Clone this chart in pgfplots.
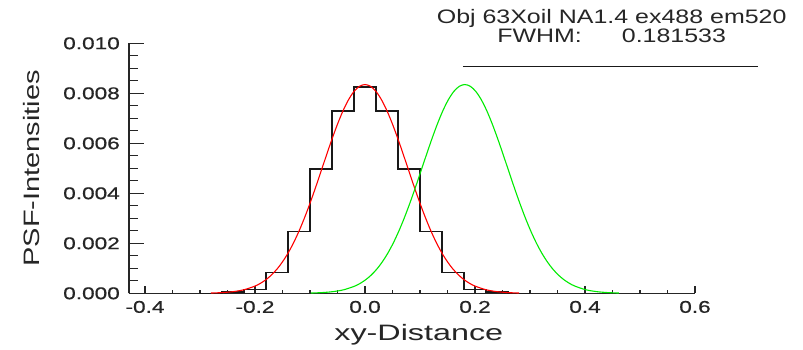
\documentclass[border=0pt]{standalone}
\usepackage{fontspec}
\setmainfont{Liberation Sans}
\newfontfamily\tickfont[FakeStretch=1.33,FakeBold=0.7]{Liberation Sans}
\newfontfamily\titlefont[FakeStretch=1.28]{Liberation Sans}
\newfontfamily\xlabfont[FakeStretch=1.45]{Liberation Sans}
\newfontfamily\ylabfont[FakeStretch=1.30]{Liberation Sans}
\usepackage{pgfplots}
\pgfplotsset{compat=1.18}
\definecolor{txt}{gray}{0.15}
\pgfplotsset{base/.style={
  at={(129pt,55.7pt)}, anchor=south west,
  scale only axis, width=566pt, height=250pt,
  xmin=-0.4291, xmax=0.6, ymin=0, ymax=0.010,
  axis line style={line width=1.6pt, black!85, -},
  tick align=inside,
  xtick={-0.4,-0.2,0,0.2,0.4,0.6}, minor x tick num=3,
  ytick={0,0.002,0.004,0.006,0.008,0.010}, minor y tick num=3,
  scaled y ticks=false, scaled x ticks=false,
  /pgf/number format/assume math mode=true,
}}
\begin{document}
\begin{tikzpicture}[x=1pt,y=1pt]
\useasboundingbox (0,0) rectangle (803,349);
\begin{axis}[base,
  axis x line*=bottom, axis y line*=left,
  major tick length=7pt, minor tick length=3.5pt,
  x tick style={line width=1.1pt, black!85},
  y tick style={draw=none},
  xticklabel style={/pgf/number format/.cd, fixed, fixed zerofill, precision=1, /tikz/.cd,
     font={\tickfont\fontsize{17}{17}\selectfont}, text=txt, inner sep=0pt, anchor=north, yshift=-7.4pt},
  yticklabel style={/pgf/number format/.cd, fixed, fixed zerofill, precision=3, /tikz/.cd,
     font={\tickfont\fontsize{17}{17}\selectfont}, text=txt, inner sep=0pt, anchor=east, xshift=-9pt},
  xlabel={xy-Distance},
  xlabel style={font={\xlabfont\fontsize{22.3}{22.3}\selectfont}, text=txt, at={(axis description cs:0.512,-0.187)}, anchor=base},
  ylabel={PSF-Intensities},
  ylabel style={font={\ylabfont\fontsize{22.3}{22.3}\selectfont}, text=txt, at={(axis description cs:-0.173,0.5)}, anchor=center},
  clip=false,
]
% histogram
\addplot[const plot, black!90, line width=1.4pt] coordinates {
 (-0.30,0) (-0.26,0.00005) (-0.22,0.00016) (-0.18,0.00084) (-0.14,0.00247)
 (-0.10,0.00497) (-0.06,0.00729) (-0.02,0.00826) (0.02,0.00729) (0.06,0.00497)
 (0.10,0.00247) (0.14,0.00084) (0.18,0.00016) (0.22,0.00005) (0.26,0) (0.30,0)
};
% red fit
\addplot[smooth, red, line width=1.1pt] coordinates {
 (-0.28,0.000011) (-0.26,0.000028) (-0.24,0.000066) (-0.22,0.000142) (-0.20,0.000289)
 (-0.19,0.000401) (-0.18,0.000547) (-0.17,0.000734) (-0.16,0.000969) (-0.15,0.001258)
 (-0.14,0.001606) (-0.13,0.002015) (-0.12,0.002487) (-0.11,0.003018) (-0.10,0.003601)
 (-0.09,0.004225) (-0.08,0.004875) (-0.07,0.005530) (-0.06,0.006169) (-0.05,0.006766)
 (-0.04,0.007299) (-0.03,0.007741) (-0.02,0.008074) (-0.01,0.008280) (0.00,0.008350)
 (0.01,0.008280) (0.02,0.008074) (0.03,0.007741) (0.04,0.007299) (0.05,0.006766)
 (0.06,0.006169) (0.07,0.005530) (0.08,0.004875) (0.09,0.004225) (0.10,0.003601)
 (0.11,0.003018) (0.12,0.002487) (0.13,0.002015) (0.14,0.001606) (0.15,0.001258)
 (0.16,0.000969) (0.17,0.000734) (0.18,0.000547) (0.19,0.000401) (0.20,0.000289)
 (0.22,0.000142) (0.24,0.000066) (0.26,0.000028) (0.28,0.000011)
};
% green shifted
\addplot[smooth, color={rgb,255:red,0;green,235;blue,0}, line width=1.1pt] coordinates {
 (-0.0985,0.000011) (-0.0785,0.000028) (-0.0585,0.000066) (-0.0385,0.000142) (-0.0185,0.000289)
 (-0.0085,0.000401) (0.0015,0.000547) (0.0115,0.000734) (0.0215,0.000969) (0.0315,0.001258)
 (0.0415,0.001606) (0.0515,0.002015) (0.0615,0.002487) (0.0715,0.003018) (0.0815,0.003601)
 (0.0915,0.004225) (0.1015,0.004875) (0.1115,0.005530) (0.1215,0.006169) (0.1315,0.006766)
 (0.1415,0.007299) (0.1515,0.007741) (0.1615,0.008074) (0.1715,0.008280) (0.1815,0.008350)
 (0.1915,0.008280) (0.2015,0.008074) (0.2115,0.007741) (0.2215,0.007299) (0.2315,0.006766)
 (0.2415,0.006169) (0.2515,0.005530) (0.2615,0.004875) (0.2715,0.004225) (0.2815,0.003601)
 (0.2915,0.003018) (0.3015,0.002487) (0.3115,0.002015) (0.3215,0.001606) (0.3315,0.001258)
 (0.3415,0.000969) (0.3515,0.000734) (0.3615,0.000547) (0.3715,0.000401) (0.3815,0.000289)
 (0.4015,0.000142) (0.4215,0.000066) (0.4415,0.000028) (0.4615,0.000011)
};
% FWHM line
\addplot[black!90, line width=1.1pt] coordinates {(0.178,0.00906) (0.7145,0.00906)};
\node[anchor=base, text=txt, font={\titlefont\fontsize{19.5}{19.5}\selectfont}, inner sep=0pt]
  at (axis cs:0.4485,0.0108) {Obj 63Xoil NA1.4 ex488 em520};
\node[anchor=base, text=txt, font={\titlefont\fontsize{19.5}{19.5}\selectfont}, inner sep=0pt]
  at (axis cs:0.4485,0.01005) {FWHM:\hspace{40pt}0.181533};
\end{axis}
\begin{axis}[base,
  axis x line=none, axis y line*=left,
  major tick length=15pt, minor tick length=8.5pt,
  y tick style={line width=1.1pt, black!85},
  yticklabels={},
]
\end{axis}
\end{tikzpicture}
\end{document}
